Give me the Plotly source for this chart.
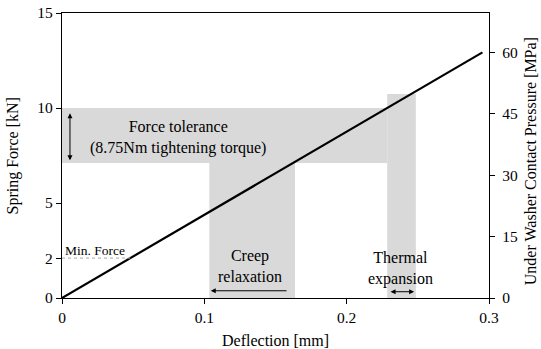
import plotly.graph_objects as go

# Data
deflection = [0.0, 0.2954]          # mm
spring_force = [0.0, 12.93]         # kN
pressure_per_kN = 60 / 12.93        # MPa per kN

force_tol_low, force_tol_high = 7.1, 10.0
creep_x = [0.1035, 0.1637]
thermal_x = [0.2285, 0.2486]
thermal_top = 10.74
min_force = 2.1

x_ticks = [0, 0.1, 0.2, 0.3]
x_ticktext = ["0", "0.1", "0.2", "0.3"]
y_ticks = [0, min_force, 5, 10, 15]
y_ticktext = ["0", "2", "5", "10", "15"]
y2_ticks = [0, 15, 30, 45, 60]

FONT = "Times New Roman"
GRAY = "#d9d9d9"

fig = go.Figure()

fig.add_trace(go.Scatter(x=deflection, y=spring_force, mode="lines",
                         line=dict(color="black", width=2.2),
                         showlegend=False, hoverinfo="skip"))
fig.add_trace(go.Scatter(x=deflection, y=[v * pressure_per_kN for v in spring_force],
                         mode="lines", yaxis="y2", line=dict(color="rgba(0,0,0,0)", width=0),
                         showlegend=False, hoverinfo="skip"))

# shaded regions
fig.add_shape(type="rect", xref="x", yref="y", x0=0, x1=thermal_x[0],
              y0=force_tol_low, y1=force_tol_high, fillcolor=GRAY, line_width=0, layer="below")
fig.add_shape(type="rect", xref="x", yref="y", x0=creep_x[0], x1=creep_x[1],
              y0=0, y1=force_tol_low, fillcolor=GRAY, line_width=0, layer="below")
fig.add_shape(type="rect", xref="x", yref="y", x0=thermal_x[0], x1=thermal_x[1],
              y0=0, y1=thermal_top, fillcolor=GRAY, line_width=0, layer="below")
# min force dashed line
fig.add_shape(type="line", xref="x", yref="y", x0=0, x1=min_force / (spring_force[1] / deflection[1]),
              y0=min_force, y1=min_force, line=dict(color="#a8a8a8", width=1, dash="dot"))

ann_font = dict(family=FONT, size=16, color="black")
fig.add_annotation(x=0.0815, y=8.45, xref="x", yref="y", showarrow=False,
                   xanchor="center", yanchor="middle",
                   text="Force tolerance<br>(8.75Nm tightening torque)", font=ann_font)
fig.add_annotation(x=0.132, y=1.66, xref="x", yref="y", showarrow=False,
                   xanchor="center", yanchor="middle",
                   text="Creep<br>relaxation", font=ann_font)
fig.add_annotation(x=0.2375, y=1.55, xref="x", yref="y", showarrow=False,
                   xanchor="center", yanchor="middle",
                   text="Thermal<br>expansion", font=ann_font)
fig.add_annotation(x=0.0005, y=2.5, xref="x", yref="y", showarrow=False, xanchor="left",
                   yanchor="middle",
                   text="Min. Force", font=dict(family=FONT, size=13.5, color="black"))

# arrows
fig.add_annotation(x=0.0056, y=7.25, ax=0.0056, ay=9.8, xref="x", yref="y", axref="x", ayref="y",
                   text="", showarrow=True, arrowhead=2, arrowside="end+start",
                   arrowsize=1, arrowwidth=1, arrowcolor="black")
fig.add_annotation(x=0.1045, y=0.38, ax=0.1588, ay=0.38, xref="x", yref="y", axref="x", ayref="y",
                   text="", showarrow=True, arrowhead=2, arrowsize=1, arrowwidth=1, arrowcolor="black")
fig.add_annotation(x=0.2474, y=0.33, ax=0.2298, ay=0.33, xref="x", yref="y", axref="x", ayref="y",
                   text="", showarrow=True, arrowhead=2, arrowside="end+start",
                   arrowsize=1, arrowwidth=1, arrowcolor="black")

# axis titles as annotations
fig.add_annotation(x=-0.1148, y=0.5, xref="paper", yref="paper", showarrow=False, textangle=-90,
                   xanchor="center", yanchor="middle",
                   text="Spring Force [kN]", font=ann_font)
fig.add_annotation(x=1.096, y=0.48, xref="paper", yref="paper", showarrow=False, textangle=-90,
                   xanchor="center", yanchor="middle",
                   text="Under Washer Contact Pressure [MPa]", font=ann_font)
fig.add_annotation(x=0.5, y=-0.148, xref="paper", yref="paper", showarrow=False,
                   xanchor="center", yanchor="middle",
                   text="Deflection [mm]", font=ann_font)

tick_font = dict(family=FONT, size=15.5, color="black")
fig.update_layout(
    width=541, height=349,
    margin=dict(l=62, r=52, t=13, b=51, autoexpand=False),
    plot_bgcolor="white", paper_bgcolor="white",
    font=dict(family=FONT, size=16, color="black"),
    xaxis=dict(range=[0, 0.3], tickvals=x_ticks, ticktext=x_ticktext, showgrid=False,
               zeroline=False, showline=True, linecolor="black", linewidth=1.3, mirror=True,
               ticks="outside", ticklen=5, tickcolor="black", tickfont=tick_font, automargin=False),
    yaxis=dict(range=[0, 15], tickvals=y_ticks, ticktext=y_ticktext, showgrid=False,
               zeroline=False, showline=True, linecolor="black", linewidth=1.3,
               ticks="outside", ticklen=5, tickcolor="black", tickfont=tick_font, automargin=False),
    yaxis2=dict(range=[0, 15 * pressure_per_kN], tickvals=y2_ticks, overlaying="y", side="right",
                showgrid=False, zeroline=False, showline=True, linecolor="black", linewidth=1.3,
                ticks="outside", ticklen=5, tickcolor="black", tickfont=tick_font, automargin=False,
                ticklabelstandoff=4),
)

fig.write_html("out.html")
